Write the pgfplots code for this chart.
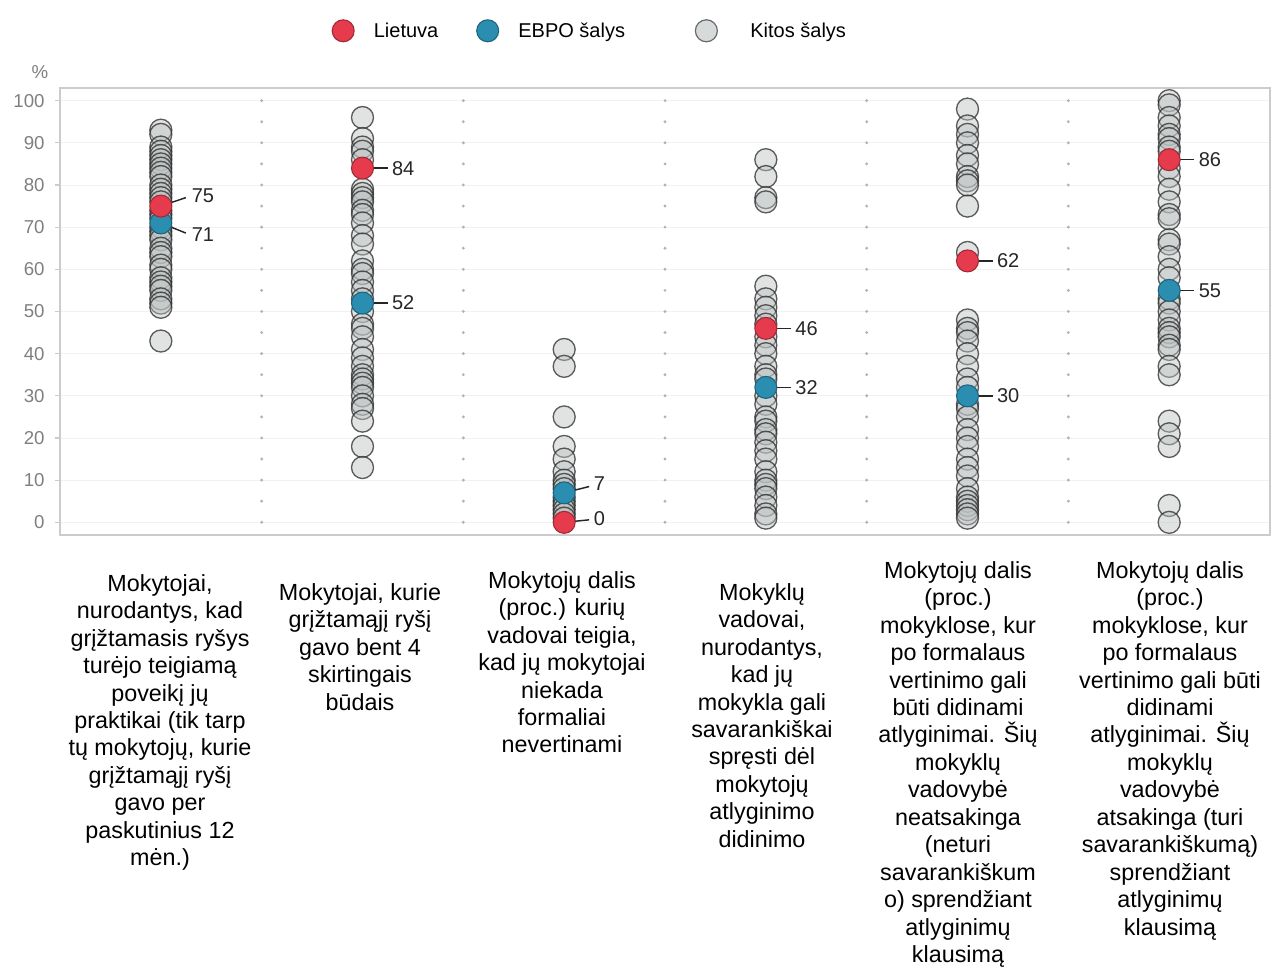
\documentclass[border=0pt]{standalone}
\usepackage{pgfplots}
\pgfplotsset{compat=1.18}
\usepackage{pgfplotstable}
\usepackage{fontspec}
\setmainfont{Liberation Sans}
\definecolor{lt}{HTML}{E63B4C}
\definecolor{oecd}{HTML}{2B8DB0}
\definecolor{oth}{HTML}{BCC1C1}
\definecolor{othedge}{HTML}{2A2A2A}
\definecolor{ticklab}{HTML}{7F7F7F}
\pgfplotstableread{
x y
1 93
1 92
1 89
1 88
1 87
1 86
1 85
1 84
1 83
1 82
1 80
1 79
1 78
1 77
1 76
1 74
1 73
1 72
1 70
1 69
1 68
1 67
1 65
1 64
1 63
1 61
1 60
1 58
1 57
1 56
1 55
1 53
1 52
1 51
1 43
2 96
2 91
2 89
2 88
2 86
2 79
2 78
2 77
2 76
2 74
2 73
2 71
2 68
2 66
2 62
2 60
2 59
2 57
2 55
2 53
2 50
2 47
2 46
2 44
2 41
2 39
2 37
2 35
2 34
2 33
2 32
2 30
2 28
2 27
2 24
2 18
2 13
3 41
3 37
3 25
3 18
3 15
3 12
3 10
3 9
3 8
3 6
3 5
3 4
3 3
3 2
3 1
4 86
4 82
4 77
4 76
4 56
4 53
4 51
4 49
4 47
4 44
4 42
4 40
4 37
4 35
4 34
4 30
4 28
4 25
4 24
4 22
4 21
4 19
4 17
4 15
4 12
4 10
4 9
4 8
4 6
4 4
4 2
4 1
5 98
5 94
5 92
5 90
5 87
5 85
5 82
5 81
5 80
5 75
5 64
5 48
5 46
5 45
5 43
5 40
5 37
5 34
5 32
5 28
5 27
5 25
5 22
5 20
5 18
5 15
5 13
5 11
5 8
5 6
5 5
5 4
5 3
5 2
5 1
6 100
6 99
6 96
6 94
6 92
6 91
6 89
6 88
6 84
6 82
6 79
6 76
6 73
6 72
6 67
6 66
6 63
6 60
6 58
6 53
6 52
6 50
6 48
6 46
6 45
6 44
6 42
6 41
6 37
6 35
6 24
6 21
6 18
6 4
6 0
}\othertable
\pgfplotstableread{
x y
1 75
2 84
3 0
4 46
5 62
6 86
}\lttable
\pgfplotstableread{
x y
1 71
2 52
3 7
4 32
5 30
6 55
}\oecdtable
\begin{document}
\begin{tikzpicture}
\path[use as bounding box] (0,0) rectangle (960.75pt,-725.25pt);
\begin{axis}[
  at={(45pt,-401.25pt)}, anchor=south west,
  scale only axis, width=907.5pt, height=335.25pt,
  xmin=0.5, xmax=6.5, ymin=-3, ymax=103,
  xtick=\empty, ytick={0,10,...,100},
  /pgf/number format/assume math mode=true,
  yticklabel style={font=\fontsize{14}{16}\selectfont, text=ticklab, xshift=-4pt},
  tick pos=left, ytick align=outside, major tick length=4pt,
  tick style={draw=gray!40, line width=0.8pt},
  axis line style={draw=gray!40, line width=1.3pt},
  ymajorgrids, grid style={draw=gray!10, line width=0.7pt},
  clip=false,
  legend columns=3,
  legend cell align=left,
  legend style={at={(0.2195,1.128)}, anchor=west, draw=none, fill=none,
    font=\fontsize{15}{18}\selectfont,
    /tikz/every even column/.append style={column sep=25pt}},
  legend image code/.code={\path[draw=none,fill=none] (-10pt,0) -- (21pt,0); \path[#1, draw=none] plot coordinates {(0pt,0pt)};},
]
\foreach \xx in {1.5,2.5,3.5,4.5,5.5}{
  \edef\tmp{\noexpand\draw[gray!60, line width=2.4pt, line cap=round, dash pattern=on 0pt off 15.81pt] (axis cs:\xx,100) -- (axis cs:\xx,-3);}
  \tmp
}
\addplot[only marks, mark=*, mark size=8.25pt,
  mark options={fill=oth, draw=othedge, fill opacity=0.45, draw opacity=0.75, line width=1pt},
  forget plot] table[x=x,y=y] {\othertable};
\addplot[only marks, mark=*, mark size=8.25pt,
  mark options={fill=oecd, draw=oecd!70!black, line width=0.8pt},
  forget plot] table[x=x,y=y] {\oecdtable};
\addplot[only marks, mark=*, mark size=8.25pt,
  mark options={fill=lt, draw=lt!70!black, line width=0.8pt},
  forget plot] table[x=x,y=y] {\lttable};
% value labels
\begin{scope}[every node/.style={font=\fontsize{15}{18}\selectfont, text=black!85, anchor=west, inner sep=0pt}]
\draw[black!85, line width=1.1pt] (axis cs:1,75) -- ([xshift=18.75pt]axis cs:1,77);
\node at ([xshift=23pt]axis cs:1,77.4) {75};
\draw[black!85, line width=1.1pt] (axis cs:1,71) -- ([xshift=18.75pt]axis cs:1,68.6);
\node at ([xshift=23pt]axis cs:1,68.2) {71};
\draw[black!85, line width=1.1pt] (axis cs:2,84) -- ([xshift=18.75pt]axis cs:2,84);
\node at ([xshift=22pt]axis cs:2,84) {84};
\draw[black!85, line width=1.1pt] (axis cs:2,52) -- ([xshift=18.75pt]axis cs:2,52);
\node at ([xshift=22pt]axis cs:2,52) {52};
\draw[black!85, line width=1.1pt] (axis cs:3,7) -- ([xshift=18.75pt]axis cs:3,8.5);
\node at ([xshift=22pt]axis cs:3,9.3) {7};
\draw[black!85, line width=1.1pt] (axis cs:3,0) -- ([xshift=18.75pt]axis cs:3,0.6);
\node at ([xshift=22pt]axis cs:3,0.8) {0};
\draw[black!85, line width=1.1pt] (axis cs:4,46) -- ([xshift=18.75pt]axis cs:4,46);
\node at ([xshift=22pt]axis cs:4,46) {46};
\draw[black!85, line width=1.1pt] (axis cs:4,32) -- ([xshift=18.75pt]axis cs:4,32);
\node at ([xshift=22pt]axis cs:4,32) {32};
\draw[black!85, line width=1.1pt] (axis cs:5,62) -- ([xshift=18.75pt]axis cs:5,62);
\node at ([xshift=22pt]axis cs:5,62) {62};
\draw[black!85, line width=1.1pt] (axis cs:5,30) -- ([xshift=18.75pt]axis cs:5,30);
\node at ([xshift=22pt]axis cs:5,30) {30};
\draw[black!85, line width=1.1pt] (axis cs:6,86) -- ([xshift=18.75pt]axis cs:6,86);
\node at ([xshift=22pt]axis cs:6,86) {86};
\draw[black!85, line width=1.1pt] (axis cs:6,55) -- ([xshift=18.75pt]axis cs:6,55);
\node at ([xshift=22pt]axis cs:6,55) {55};
\end{scope}
\addlegendimage{only marks, mark=*, mark size=8.25pt, mark options={fill=lt, draw=lt!70!black, line width=0.8pt}}
\addlegendentry{Lietuva}
\addlegendimage{only marks, mark=*, mark size=8.25pt, mark options={fill=oecd, draw=oecd!70!black, line width=0.8pt}}
\addlegendentry{EBPO šalys\rule{24pt}{0pt}}
\addlegendimage{only marks, mark=*, mark size=8.25pt, mark options={fill=oth!60, draw=othedge!70, line width=0.9pt}}
\addlegendentry{\hspace{10pt}Kitos šalys}
\end{axis}
% percent sign
\node[font=\fontsize{14}{16}\selectfont, text=ticklab] at (40*0.75pt,-72*0.75pt) {\%};
% category labels
\begin{scope}[every node/.style={font=\fontsize{17.5}{20.6}\selectfont, align=center, anchor=north, inner sep=0pt}]
\node at (160*0.75pt,-574*0.75pt) {Mokytojai,\\nurodantys, kad\\grįžtamasis ryšys\\turėjo teigiamą\\poveikį jų\\praktikai (tik tarp\\tų mokytojų, kurie\\grįžtamąjį ryšį\\gavo per\\paskutinius 12\\mėn.)};
\node at (360*0.75pt,-583*0.75pt) {Mokytojai, kurie\\grįžtamąjį ryšį\\gavo bent 4\\skirtingais\\būdais};
\node at (562*0.75pt,-571*0.75pt) {Mokytojų dalis\\(proc.) kurių\\vadovai teigia,\\kad jų mokytojai\\niekada\\formaliai\\nevertinami};
\node at (762*0.75pt,-583*0.75pt) {Mokyklų\\vadovai,\\nurodantys,\\kad jų\\mokykla gali\\savarankiškai\\spręsti dėl\\mokytojų\\atlyginimo\\didinimo};
\node at (958*0.75pt,-561*0.75pt) {Mokytojų dalis\\(proc.)\\mokyklose, kur\\po formalaus\\vertinimo gali\\būti didinami\\atlyginimai. Šių\\mokyklų\\vadovybė\\neatsakinga\\(neturi\\savarankiškum\\o) sprendžiant\\atlyginimų\\klausimą};
\node at (1170*0.75pt,-561*0.75pt) {Mokytojų dalis\\(proc.)\\mokyklose, kur\\po formalaus\\vertinimo gali būti\\didinami\\atlyginimai. Šių\\mokyklų\\vadovybė\\atsakinga (turi\\savarankiškumą)\\sprendžiant\\atlyginimų\\klausimą};
\end{scope}
\end{tikzpicture}
\end{document}
